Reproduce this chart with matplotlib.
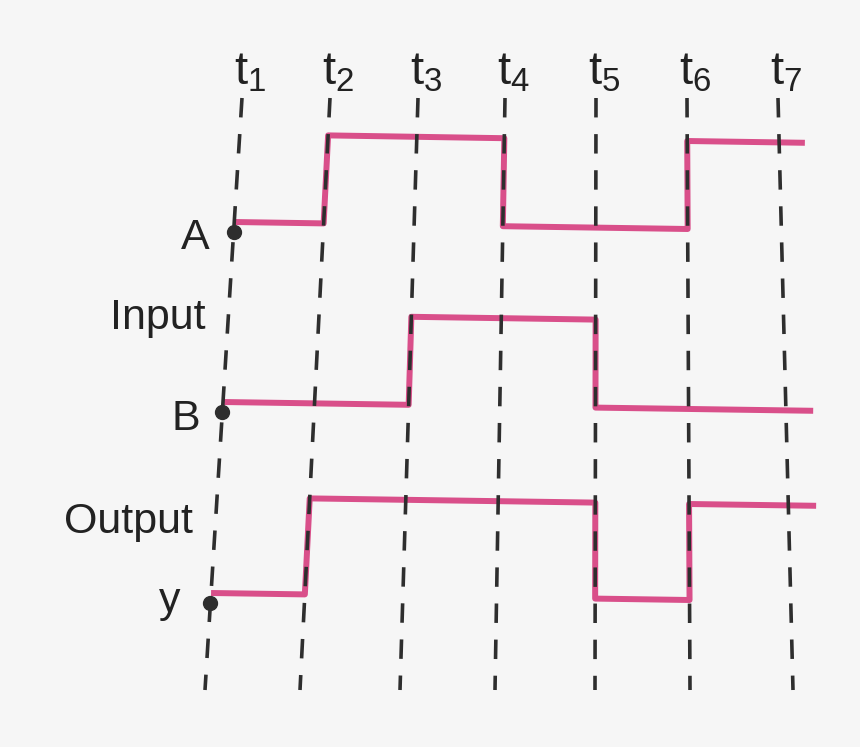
import matplotlib.pyplot as plt
import numpy as np

# Данные: моменты времени и уровни сигналов на каждом интервале
time_labels = ['1', '2', '3', '4', '5', '6', '7']
signal_names = ['A', 'B', 'y']
# уровни на интервалах [t1,t2), [t2,t3), ..., [t7, конец)
levels_A = [0, 1, 1, 0, 0, 1, 1]
levels_B = [0, 0, 1, 1, 0, 0, 0]
levels_y = [0, 1, 1, 1, 0, 1, 1]

# Геометрия фото (пиксели): линии времени немного наклонены
top_y, bot_y = 98, 690
top_x = np.array([242, 330, 418, 505, 596, 687, 778])
bot_x = np.array([205, 300, 400, 495, 595, 690, 793])
u_end = 6.28
slope = 1.4  # лёгкий наклон горизонталей

pink = '#d94f8a'
ink = '#2e2e2e'

plt.rcParams['mathtext.fontset'] = 'custom'
plt.rcParams['mathtext.rm'] = 'Liberation Sans'
plt.rcParams['lines.scale_dashes'] = False


def line_x(u, y):
    # x-координата точки на "линии времени" u при высоте y
    k = len(top_x) - 1
    if u > k:
        tx = top_x[k] + (u - k) * (top_x[k] - top_x[k - 1])
        bx = bot_x[k] + (u - k) * (bot_x[k] - bot_x[k - 1])
    else:
        tx = np.interp(u, np.arange(k + 1), top_x)
        bx = np.interp(u, np.arange(k + 1), bot_x)
    return tx + (bx - tx) * (y - top_y) / (bot_y - top_y)


fig = plt.figure(figsize=(8.6, 7.47), dpi=100)
fig.patch.set_facecolor('#f6f6f6')
ax = fig.add_axes([0, 0, 1, 1])
ax.set_xlim(0, 860)
ax.set_ylim(747, 0)
ax.axis('off')

# Пунктирные линии моментов времени
for i, lab in enumerate(time_labels):
    ax.plot([top_x[i], bot_x[i]], [top_y, bot_y], color=ink, lw=2.6,
            dashes=(14, 12), zorder=3)
    ax.text(top_x[i] - 8, 84, r'$\mathrm{t}_{%s}$' % lab, fontsize=34,
            family='Liberation Sans', color='#222222', ha='left', va='baseline')

# Сигналы: (уровни, y низкого, y высокого)
signals = [
    (levels_A, 222, 134),
    (levels_B, 402, 314),
    (levels_y, 593, 497),
]

dot_pos = []
for levels, y_low, y_high in signals:
    def lev_y(l, u):
        return (y_high if l else y_low) + slope * u
    us = [0.0]
    ys = [lev_y(levels[0], 0.0)]
    for i in range(1, len(levels)):
        if levels[i] != levels[i - 1]:
            us += [i, i]
            ys += [lev_y(levels[i - 1], i), lev_y(levels[i], i)]
    us.append(u_end)
    ys.append(lev_y(levels[-1], u_end))
    xs = [line_x(u, y) for u, y in zip(us, ys)]
    ax.plot(xs, ys, color=pink, lw=4.3, solid_joinstyle='round',
            solid_capstyle='butt', zorder=2)
    dot_pos.append((line_x(0, y_low + 10), y_low + 10))

# Точки-клеммы
for x, y in dot_pos:
    ax.plot(x, y, 'o', color=ink, ms=10, zorder=4)

# Подписи слева
font = dict(family='Liberation Sans', color='#222222', ha='right', va='baseline')
ax.text(210, 249, 'A', fontsize=31, **font)
ax.text(206, 329, 'Input', fontsize=31, **font)
ax.text(200, 430, 'B', fontsize=31, **font)
ax.text(193, 533, 'Output', fontsize=31, **font)
ax.text(180, 612, 'y', fontsize=31, **font)

plt.savefig('out.png', dpi=100, facecolor=fig.get_facecolor())
